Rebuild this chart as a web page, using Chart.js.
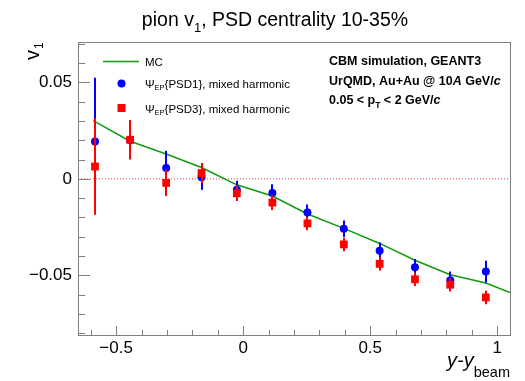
<!DOCTYPE html>
<html lang="en">
<head>
    <meta charset="UTF-8">
    <title>pion v1, PSD centrality 10-35%</title>
    <script src="https://cdn.jsdelivr.net/npm/chart.js"></script>
    <style>
        html, body { margin: 0; padding: 0; background: #fff; }
        canvas { display: block; }
    </style>
</head>
<body>
    <canvas id="v1Chart" width="525" height="381"></canvas>
    <script>
        // rapidity bins (y - y_beam)
        const rapidity = [-0.583, -0.445, -0.303, -0.164, -0.025, 0.115, 0.253, 0.396, 0.537, 0.676, 0.815, 0.955];
        // Psi_EP{PSD1}
        const v1Psd1 = [0.0194, 0.0200, 0.0056, 0.0009, -0.0057, -0.0073, -0.0175, -0.0259, -0.0373, -0.0458, -0.0526, -0.0481];
        const errPsd1 = [0.033, 0.008, 0.009, 0.0066, 0.0047, 0.0045, 0.0042, 0.0043, 0.0043, 0.0042, 0.0045, 0.0056];
        // Psi_EP{PSD3}
        const v1Psd3 = [0.0064, 0.0203, -0.0021, 0.0030, -0.0075, -0.0123, -0.0231, -0.0340, -0.0441, -0.0521, -0.0549, -0.0615];
        const errPsd3 = [0.025, 0.0102, 0.0068, 0.0052, 0.0040, 0.0038, 0.0035, 0.0035, 0.0035, 0.0035, 0.0035, 0.0035];
        // MC curve
        const mcX = [-0.59, -0.445, -0.303, -0.164, -0.025, 0.115, 0.253, 0.396, 0.537, 0.676, 0.815, 0.955, 1.05];
        const mcV1 = [0.0302, 0.0195, 0.0129, 0.0059, -0.0031, -0.0089, -0.0182, -0.0257, -0.0335, -0.0422, -0.0497, -0.0540, -0.0590];

        // axis ranges and tick positions
        const xRange = [-0.65, 1.05];
        const yRange = [-0.081, 0.071];
        const xTicks = [-0.6, -0.5, -0.4, -0.3, -0.2, -0.1, 0, 0.1, 0.2, 0.3, 0.4, 0.5, 0.6, 0.7, 0.8, 0.9, 1.0];
        const xMajor = [-0.5, 0, 0.5, 1.0];
        const yTicks = [-0.08, -0.07, -0.06, -0.05, -0.04, -0.03, -0.02, -0.01, 0, 0.01, 0.02, 0.03, 0.04, 0.05, 0.06, 0.07];
        const yMajor = [-0.05, 0, 0.05];

        const FONT = '"Liberation Sans", Arial, Helvetica, sans-serif';
        const AXIS_COLOR = '#7f7f7f';

        const inList = (v, list) => list.some(m => Math.abs(m - v) < 1e-9);
        const fmt = v => (v === 0 ? '0' : String(v).replace('-', '\u2212'));

        // draw a run of text pieces (for sub/superscripts), returns width
        function drawParts(ctx, parts, x, y, measureOnly) {
            let cx = x;
            parts.forEach(p => {
                ctx.font = p.font;
                if (!measureOnly) ctx.fillText(p.t, cx, y + (p.dy || 0));
                cx += ctx.measureText(p.t).width + (p.gap || 0);
            });
            return cx - x;
        }

        const pts = (xs, ys) => xs.map((x, i) => ({ x: x, y: ys[i] }));

        const decorations = {
            id: 'decorations',
            beforeDatasetDraw(chart, args) {
                const ds = chart.data.datasets[args.index];
                if (!ds.errors) return;
                const ctx = chart.ctx;
                const xs = chart.scales.x, ys = chart.scales.y;
                ctx.save();
                ctx.strokeStyle = ds.backgroundColor;
                ctx.lineWidth = 2;
                ds.data.forEach((p, i) => {
                    const px = Math.round(xs.getPixelForValue(p.x));
                    ctx.beginPath();
                    ctx.moveTo(px, ys.getPixelForValue(p.y + ds.errors[i]));
                    ctx.lineTo(px, ys.getPixelForValue(p.y - ds.errors[i]));
                    ctx.stroke();
                });
                ctx.restore();
            },
            afterDraw(chart) {
                const ctx = chart.ctx;
                const a = chart.chartArea;
                const xs = chart.scales.x, ys = chart.scales.y;
                ctx.save();

                // frame
                ctx.strokeStyle = AXIS_COLOR;
                ctx.lineWidth = 1;
                ctx.strokeRect(Math.round(a.left) + 0.5, Math.round(a.top) + 0.5,
                    Math.round(a.right - a.left), Math.round(a.bottom - a.top));

                // inward ticks
                ctx.beginPath();
                xs.ticks.forEach(t => {
                    const px = Math.round(xs.getPixelForValue(t.value)) + 0.5;
                    const len = inList(t.value, xMajor) ? 9 : 5;
                    ctx.moveTo(px, a.bottom);
                    ctx.lineTo(px, a.bottom - len);
                });
                ys.ticks.forEach(t => {
                    const py = Math.round(ys.getPixelForValue(t.value)) + 0.5;
                    const len = inList(t.value, yMajor) ? 12 : 7;
                    ctx.moveTo(a.left, py);
                    ctx.lineTo(a.left + len, py);
                });
                ctx.stroke();

                ctx.fillStyle = '#000';
                ctx.textBaseline = 'alphabetic';

                // title
                const big = '19.5px ' + FONT, sub = '13px ' + FONT;
                const titleParts = [
                    { t: 'pion v', font: big },
                    { t: '1', font: sub, dy: 6 },
                    { t: ', PSD centrality 10-35%', font: big }
                ];
                const tw = drawParts(ctx, titleParts, 0, 0, true);
                drawParts(ctx, titleParts, 275 - tw / 2, 26);

                // y axis title
                ctx.save();
                ctx.translate(39, 60);
                ctx.rotate(-Math.PI / 2);
                drawParts(ctx, [
                    { t: 'v', font: '20px ' + FONT, gap: 1 },
                    { t: '1', font: '12px ' + FONT, dy: 4 }
                ], 0, 0);
                ctx.restore();

                // x axis title, right aligned to the frame
                const xParts = [
                    { t: 'y-y', font: 'italic 20px ' + FONT },
                    { t: 'beam', font: '14.5px ' + FONT, dy: 10 }
                ];
                const xw = drawParts(ctx, xParts, 0, 0, true);
                drawParts(ctx, xParts, a.right - xw, 367);

                // legend
                const lx = 103, tx = 145;
                ctx.strokeStyle = '#119911';
                ctx.lineWidth = 1.5;
                ctx.beginPath();
                ctx.moveTo(lx, 61.5);
                ctx.lineTo(lx + 36, 61.5);
                ctx.stroke();
                const lf = '11.5px ' + FONT, lsub = '7.5px ' + FONT;
                drawParts(ctx, [{ t: 'MC', font: lf }], tx, 65.5);
                ctx.fillStyle = '#0000ff';
                ctx.beginPath();
                ctx.arc(121.5, 83.5, 4, 0, Math.PI * 2);
                ctx.fill();
                ctx.fillStyle = '#ff0000';
                ctx.fillRect(117.5, 104, 8, 8);
                ctx.fillStyle = '#000';
                drawParts(ctx, [
                    { t: '\u03a8', font: lf },
                    { t: 'EP', font: lsub, dy: 2 },
                    { t: '{PSD1}, mixed harmonic', font: lf }
                ], tx, 88);
                drawParts(ctx, [
                    { t: '\u03a8', font: lf },
                    { t: 'EP', font: lsub, dy: 2 },
                    { t: '{PSD3}, mixed harmonic', font: lf }
                ], tx, 112.5);

                // info text block
                const b = 'bold 12.5px ' + FONT, bi = 'italic bold 12.5px ' + FONT, bs = 'bold 8.5px ' + FONT;
                const ix = 329;
                drawParts(ctx, [{ t: 'CBM simulation, GEANT3', font: b }], ix, 65);
                drawParts(ctx, [
                    { t: 'UrQMD, Au+Au @ 10', font: b },
                    { t: 'A', font: bi },
                    { t: ' GeV/', font: b },
                    { t: 'c', font: bi }
                ], ix, 85);
                drawParts(ctx, [
                    { t: '0.05 < p', font: b },
                    { t: 'T', font: bs, dy: 4 },
                    { t: ' < 2 GeV/', font: b },
                    { t: 'c', font: bi }
                ], ix, 104);

                ctx.restore();
            }
        };

        const ctx = document.getElementById('v1Chart').getContext('2d');
        new Chart(ctx, {
            type: 'scatter',
            data: {
                datasets: [
                    {
                        label: 'PSD3',
                        data: pts(rapidity, v1Psd3),
                        errors: errPsd3,
                        backgroundColor: '#ff0000',
                        borderColor: '#ff0000',
                        pointStyle: 'rect',
                        pointRadius: 5.5,
                        pointBorderWidth: 0,
                        order: 1
                    },
                    {
                        label: 'PSD1',
                        data: pts(rapidity, v1Psd1),
                        errors: errPsd1,
                        backgroundColor: '#0000ff',
                        borderColor: '#0000ff',
                        pointStyle: 'circle',
                        pointRadius: 4,
                        pointBorderWidth: 0,
                        order: 2
                    },
                    {
                        label: 'MC',
                        data: pts(mcX, mcV1),
                        showLine: true,
                        borderColor: '#119911',
                        borderWidth: 1.5,
                        pointRadius: 0,
                        order: 3
                    },
                    {
                        label: 'zero',
                        data: pts(xRange, [0, 0]),
                        showLine: true,
                        borderColor: '#ff3333',
                        borderWidth: 1,
                        borderDash: [1, 2],
                        pointRadius: 0,
                        order: 4
                    }
                ]
            },
            options: {
                responsive: false,
                animation: false,
                events: [],
                layout: { padding: { left: 0, right: 15, top: 42, bottom: 0 } },
                plugins: {
                    legend: { display: false },
                    title: { display: false },
                    tooltip: { enabled: false }
                },
                scales: {
                    x: {
                        type: 'linear',
                        min: xRange[0],
                        max: xRange[1],
                        grid: { display: false, drawTicks: false },
                        border: { display: false },
                        afterBuildTicks: s => { s.ticks = xTicks.map(v => ({ value: v })); },
                        ticks: {
                            autoSkip: false,
                            maxRotation: 0,
                            padding: 3,
                            color: '#000',
                            font: { family: FONT, size: 17 },
                            callback: v => inList(v, xMajor) ? fmt(v) : ''
                        },
                        afterFit: s => { s.height = 46; }
                    },
                    y: {
                        type: 'linear',
                        min: yRange[0],
                        max: yRange[1],
                        grid: { display: false, drawTicks: false },
                        border: { display: false },
                        afterBuildTicks: s => { s.ticks = yTicks.map(v => ({ value: v })); },
                        ticks: {
                            autoSkip: false,
                            padding: 6,
                            color: '#000',
                            font: { family: FONT, size: 17 },
                            callback: v => inList(v, yMajor) ? fmt(v) : ''
                        },
                        afterFit: s => { s.width = 78; }
                    }
                }
            },
            plugins: [decorations]
        });
    </script>
</body>
</html>
